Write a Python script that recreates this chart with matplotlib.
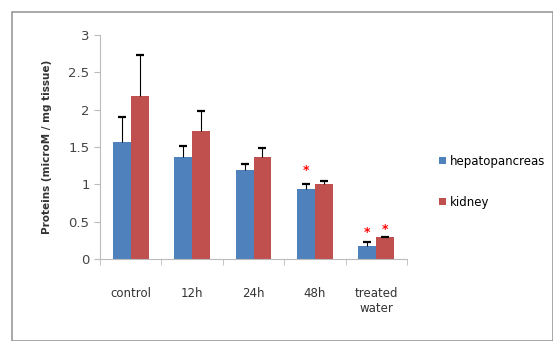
import matplotlib.pyplot as plt
from matplotlib.patches import Rectangle
import numpy as np

categories = ["control", "12h", "24h", "48h", "treated\nwater"]
hepato = [1.57, 1.36, 1.19, 0.94, 0.17]
kidney = [2.18, 1.72, 1.37, 1.01, 0.29]
hepato_err = [0.33, 0.16, 0.08, 0.07, 0.06]
kidney_err = [0.55, 0.26, 0.12, 0.04, 0.01]
# asterisk heights (significance marks)
star_hep = [None, None, None, 1.18, 0.36]
star_kid = [None, None, None, None, 0.39]

blue = "#4F81BD"
red = "#C0504D"

fig = plt.figure(figsize=(5.53, 3.41), dpi=100)
fig.patches.append(Rectangle((12 / 553, 0), 1 - 12 / 553, 1 - 12 / 341,
                             transform=fig.transFigure, fill=False,
                             edgecolor="#999999", linewidth=1.2))
ax = fig.add_axes([100 / 553, 82 / 341, 307 / 553, 224 / 341])

x = np.arange(len(categories))
w = 0.29
ax.bar(x - w / 2, hepato, w, color=blue, label="hepatopancreas")
ax.bar(x + w / 2, kidney, w, color=red, label="kidney")

# upper-only error bars, Excel style
for xs, vals, errs in [(x - w / 2, hepato, hepato_err), (x + w / 2, kidney, kidney_err)]:
    tops = np.array(vals) + np.array(errs)
    ax.vlines(xs, vals, tops, color="black", linewidth=0.8)
    ax.plot(xs, tops, linestyle="none", marker="_", markersize=6, markeredgewidth=1.6, color="black")

for i in range(5):
    if star_hep[i] is not None:
        ax.text(x[i] - w / 2, star_hep[i], "*", color="red", ha="center", va="center", fontsize=9, fontweight="bold")
    if star_kid[i] is not None:
        ax.text(x[i] + w / 2, star_kid[i], "*", color="red", ha="center", va="center", fontsize=9, fontweight="bold")

ax.set_xlim(-0.5, 4.5)
ax.set_ylim(0, 3)
ax.set_yticks([0, 0.5, 1, 1.5, 2, 2.5, 3])
ax.set_yticklabels(["0", "0.5", "1", "1.5", "2", "2.5", "3"])
ax.set_xticks(x)
ax.set_xticklabels(categories)
ax.set_xticks(np.arange(-0.5, 5, 1), minor=True)
ax.tick_params(axis="x", which="major", length=0, pad=20, labelsize=8.5, labelcolor="#333333")
ax.tick_params(axis="x", which="minor", length=4, color="#bbbbbb", direction="out")
ax.tick_params(axis="y", length=4, color="#bbbbbb", labelsize=9.5, labelcolor="#444444")
for s in ["top", "right"]:
    ax.spines[s].set_visible(False)
for s in ["left", "bottom"]:
    ax.spines[s].set_color("#bbbbbb")

ax.set_ylabel("Proteins (microM / mg tissue)", fontsize=7.5, fontweight="bold", color="#333333", labelpad=12)

ax.legend(loc="center left", bbox_to_anchor=(1.07, 0.345), frameon=False, fontsize=8.5,
          handlelength=0.6, handleheight=0.6, handletextpad=0.3, labelspacing=2.4)

fig.savefig("out.png", dpi=100)
